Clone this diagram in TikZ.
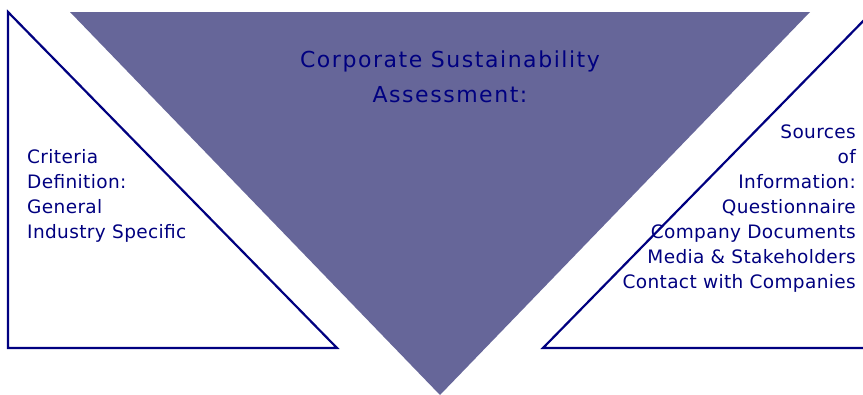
\documentclass[tikz,border=0pt]{standalone}
\usepackage{fontspec}
\setmainfont{DejaVu Sans}
\newfontfamily\titlefont[LetterSpace=7]{DejaVu Sans}
\newfontfamily\sidefont[LetterSpace=2]{DejaVu Sans}
\definecolor{slate}{HTML}{666699}
\definecolor{navy}{HTML}{000080}
\begin{document}
\begin{tikzpicture}[x=1pt,y=-1pt,
  outline/.style={draw=navy,line width=2.2pt,line join=miter},
  bigtri/.style={fill=slate,draw=none},
  titletext/.style={text=navy,font=\titlefont\fontsize{22}{35}\selectfont,align=center,inner sep=0pt},
  sidetext/.style={text=navy,font=\sidefont\fontsize{18.5}{25}\selectfont,inner sep=0pt}]
\useasboundingbox (0,0) rectangle (863,394);
\clip (0,0) rectangle (863,394);
\fill[white] (0,0) rectangle (863,394);
% central inverted triangle
\path[bigtri] (70,12) -- (810,12) -- (440,395) -- cycle;
% left triangle
\draw[outline] (8,12) -- (8,348) -- (337,348) -- cycle;
% right triangle
\draw[outline] (872,12) -- (872,348) -- (543,348) -- cycle;
% texts (anchor base = baseline of last line)
\node[titletext,anchor=base] (title) at (450,102) {Corporate Sustainability\\Assessment:};
\node[sidetext,anchor=base west,align=left] (criteria) at (27,238)
  {Criteria\\Definition:\\General\\Industry Specific};
\node[sidetext,anchor=base east,align=right] (sources) at (856,288)
  {Sources\\of\\Information:\\Questionnaire\\Company Documents\\Media \& Stakeholders\\Contact with Companies};
\end{tikzpicture}
\end{document}
